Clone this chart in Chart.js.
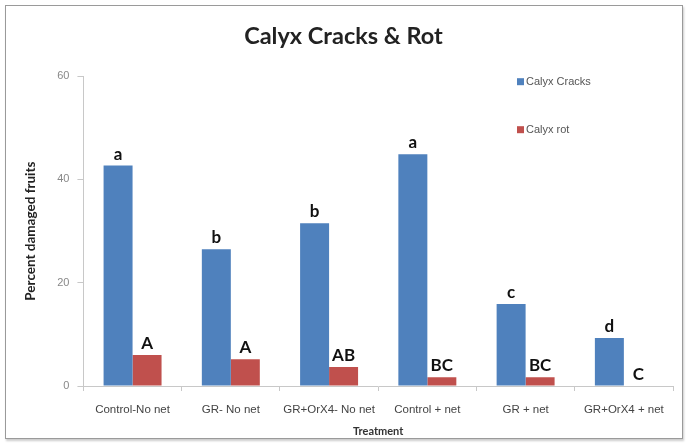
<!DOCTYPE html>
<html>
<head>
<meta charset="utf-8">
<script src="https://cdn.jsdelivr.net/npm/chart.js@4"></script>
<style>
  html, body { margin: 0; padding: 0; background: #fff; }
  #frame {
    position: absolute; left: 5px; top: 5px;
    width: 676px; height: 432px;
    border: 1px solid #9a9a9a;
    box-shadow: 1px 2px 2px #ccc;
  }
  #chart { display: block; }
</style>
</head>
<body>
<div id="frame"><canvas id="chart" width="676" height="432"></canvas></div>
<script>
const treatments = ['Control-No net', 'GR- No net', 'GR+OrX4- No net', 'Control + net', 'GR + net', 'GR+OrX4 + net'];
const calyxCracks = [42.7, 26.5, 31.5, 44.9, 15.9, 9.3];
const calyxRot = [6.0, 5.2, 3.7, 1.7, 1.7, 0];
const cracksLetters = ['a', 'b', 'b', 'a', 'c', 'd'];
const rotLetters = ['A', 'A', 'AB', 'BC', 'BC', 'C'];
const yTicks = [0, 20, 40, 60];

const letterPlugin = {
    id: 'letters',
    afterDatasetsDraw(chart) {
        const ctx = chart.ctx;
        const groups = [cracksLetters, rotLetters];
        ctx.save();
        ctx.font = 'bold 17px Lato, sans-serif';
        ctx.fillStyle = '#111';
        ctx.textAlign = 'center';
        ctx.textBaseline = 'bottom';
        groups.forEach((letters, di) => {
            chart.getDatasetMeta(di).data.forEach((bar, i) => {
                ctx.fillText(letters[i], bar.x, bar.y - 3);
            });
        });
        ctx.restore();
    }
};

const legendPlugin = {
    id: 'sideLegend',
    afterDraw(chart) {
        const ctx = chart.ctx;
        const area = chart.chartArea;
        const x = area.right - 156;
        ctx.save();
        ctx.font = '11px "Liberation Sans Narrow", sans-serif';
        ctx.textBaseline = 'middle';
        chart.data.datasets.forEach((ds, i) => {
            const y = area.top + 6 + i * 48;
            ctx.fillStyle = ds.backgroundColor;
            ctx.fillRect(x, y - 4, 7, 7);
            ctx.fillStyle = '#555';
            ctx.fillText(ds.label, x + 9, y);
        });
        ctx.restore();
    }
};

new Chart(document.getElementById('chart'), {
    type: 'bar',
    data: {
        labels: treatments,
        datasets: [
            { label: 'Calyx Cracks', data: calyxCracks, backgroundColor: '#4F81BD' },
            { label: 'Calyx rot', data: calyxRot, backgroundColor: '#C0504D' }
        ]
    },
    options: {
        responsive: false,
        animation: false,
        categoryPercentage: 0.59,
        barPercentage: 1.0,
        layout: { padding: { left: 8, right: 9, top: 0, bottom: 0 } },
        plugins: {
            legend: { display: false },
            tooltip: { enabled: false },
            title: {
                display: true,
                text: 'Calyx Cracks & Rot',
                color: '#222',
                font: { family: 'Lato, sans-serif', size: 23.5, weight: 'bold' },
                padding: { top: 16, bottom: 26 }
            }
        },
        scales: {
            x: {
                grid: { display: true, drawOnChartArea: false, offset: true, tickLength: 5, color: '#c8c8c8' },
                border: { color: '#c8c8c8' },
                ticks: {
                    color: '#444',
                    font: { family: '"Liberation Sans Narrow", sans-serif', size: 11.5 },
                    maxRotation: 0, autoSkip: false, padding: 12
                },
                title: {
                    display: true, text: 'Treatment', color: '#333',
                    font: { family: 'Lato, sans-serif', size: 11, weight: 'bold' },
                    padding: { top: -4, bottom: 0 }
                }
            },
            y: {
                min: 0, max: 60,
                afterBuildTicks(axis) { axis.ticks = yTicks.map(v => ({ value: v })); },
                grid: { display: true, drawOnChartArea: false, tickLength: 6, color: '#c8c8c8' },
                border: { color: '#c8c8c8' },
                ticks: {
                    color: '#888',
                    font: { family: '"Liberation Sans Narrow", sans-serif', size: 11 },
                    padding: 8
                },
                title: {
                    display: true, text: 'Percent damaged fruits', color: '#222',
                    font: { family: 'Lato, sans-serif', size: 13.5, weight: 'bold' },
                    padding: { top: 9, bottom: 10 }
                }
            }
        }
    },
    plugins: [letterPlugin, legendPlugin]
});
</script>
</body>
</html>
